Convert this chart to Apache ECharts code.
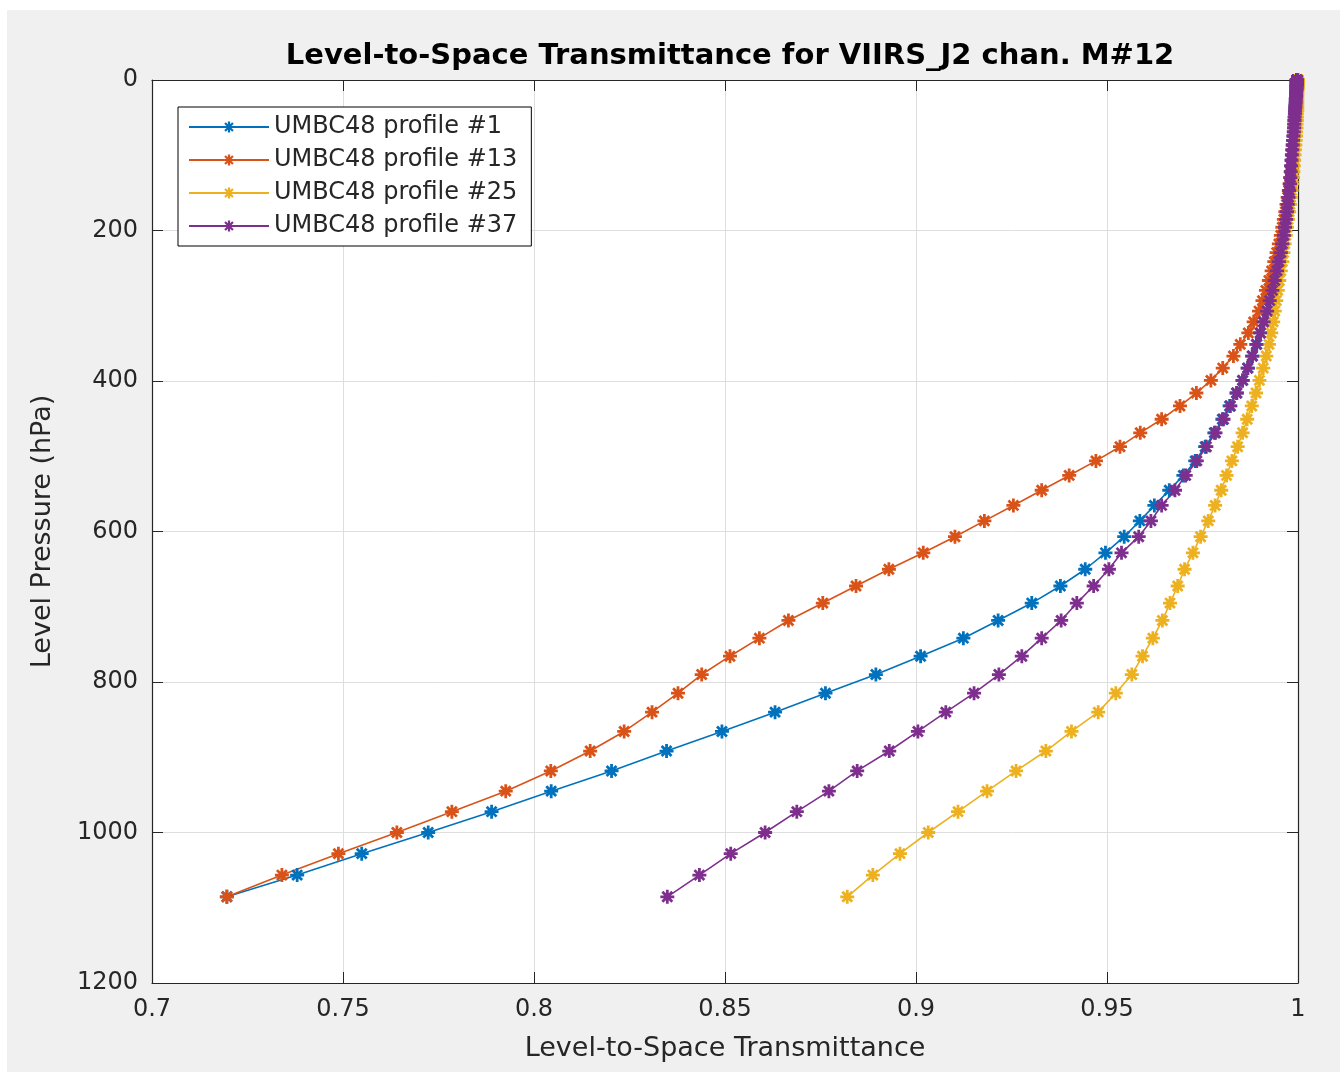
<!DOCTYPE html>
<html>
<head>
<meta charset="utf-8">
<script src="https://cdn.jsdelivr.net/npm/echarts@6/dist/echarts.min.js"></script>
<style>
html, body { margin: 0; padding: 0; background: #fff; }
#main { position: absolute; left: 7px; top: 10px; width: 1333px; height: 1062px; }
</style>
</head>
<body>
<div id="main"></div>
<script>
// layer pressures (hPa), top of atmosphere to surface
var pressure = [
  0.01, 0.03, 0.06, 0.11, 0.18, 0.28, 0.43, 0.61, 0.84, 1.14,
  1.49, 1.92, 2.43, 3.02, 3.71, 4.50, 5.40, 6.42, 7.56, 8.84,
  10.26, 11.83, 13.55, 15.44, 17.51, 19.75, 22.19, 24.82, 27.65, 30.70,
  33.96, 37.45, 41.18, 45.14, 49.36, 53.83, 58.56, 63.56, 68.83, 74.39,
  80.24, 86.38, 92.82, 99.57, 106.63, 114.01, 121.71, 129.75, 138.12, 146.83,
  155.88, 165.29, 175.05, 185.17, 195.65, 206.51, 217.73, 229.34, 241.32, 253.69,
  266.44, 279.59, 293.13, 307.07, 321.41, 336.15, 351.29, 366.85, 382.81, 399.18,
  415.97, 433.18, 450.80, 468.84, 487.30, 506.18, 525.48, 545.20, 565.35, 585.92,
  606.91, 628.33, 650.17, 672.43, 695.12, 718.23, 741.76, 765.71, 790.08, 814.87,
  840.08, 865.70, 891.74, 918.19, 945.06, 972.33, 1000.01, 1028.09, 1056.57, 1085.46
]

var profile1 = [
  0.9998, 0.9998, 0.9998, 0.9998, 0.9998, 0.9998, 0.9998, 0.9998, 0.9998, 0.9998,
  0.9998, 0.9998, 0.9998, 0.9998, 0.9998, 0.9997, 0.9997, 0.9997, 0.9997, 0.9997,
  0.9997, 0.9997, 0.9996, 0.9996, 0.9996, 0.9996, 0.9995, 0.9995, 0.9995, 0.9994,
  0.9994, 0.9993, 0.9993, 0.9992, 0.9992, 0.9991, 0.9991, 0.9990, 0.9990, 0.9989,
  0.9988, 0.9987, 0.9986, 0.9985, 0.9984, 0.9983, 0.9982, 0.9981, 0.9980, 0.9979,
  0.9977, 0.9975, 0.9973, 0.9970, 0.9967, 0.9964, 0.9960, 0.9956, 0.9951, 0.9946,
  0.9940, 0.9934, 0.9927, 0.9920, 0.9911, 0.9902, 0.9892, 0.9881, 0.9869, 0.9855,
  0.9839, 0.9821, 0.9802, 0.9781, 0.9757, 0.9731, 0.9700, 0.9663, 0.9624, 0.9586,
  0.9545, 0.9496, 0.9443, 0.9378, 0.9303, 0.9215, 0.9124, 0.9012, 0.8895, 0.8763,
  0.8631, 0.8492, 0.8347, 0.8203, 0.8045, 0.7889, 0.7723, 0.7549, 0.7380, 0.7196
]

var profile13 = [
  0.9998, 0.9998, 0.9998, 0.9998, 0.9998, 0.9998, 0.9998, 0.9998, 0.9998, 0.9998,
  0.9998, 0.9998, 0.9998, 0.9998, 0.9997, 0.9997, 0.9997, 0.9997, 0.9997, 0.9997,
  0.9997, 0.9997, 0.9997, 0.9997, 0.9996, 0.9996, 0.9996, 0.9996, 0.9995, 0.9995,
  0.9995, 0.9994, 0.9994, 0.9993, 0.9993, 0.9992, 0.9992, 0.9991, 0.9991, 0.9990,
  0.9989, 0.9988, 0.9987, 0.9986, 0.9985, 0.9983, 0.9982, 0.9980, 0.9978, 0.9976,
  0.9973, 0.9970, 0.9967, 0.9963, 0.9959, 0.9955, 0.9950, 0.9944, 0.9938, 0.9931,
  0.9924, 0.9916, 0.9907, 0.9898, 0.9884, 0.9870, 0.9849, 0.9831, 0.9803, 0.9772,
  0.9734, 0.9691, 0.9643, 0.9587, 0.9534, 0.9471, 0.9401, 0.9329, 0.9255, 0.9179,
  0.9102, 0.9019, 0.8929, 0.8843, 0.8756, 0.8666, 0.8590, 0.8513, 0.8439, 0.8377,
  0.8309, 0.8236, 0.8147, 0.8044, 0.7926, 0.7785, 0.7641, 0.7488, 0.7340, 0.7196
]

var profile25 = [
  1.0000, 1.0000, 1.0000, 1.0000, 1.0000, 1.0000, 1.0000, 1.0000, 1.0000, 1.0000,
  1.0000, 1.0000, 0.9999, 0.9999, 0.9999, 0.9999, 0.9999, 0.9999, 0.9999, 0.9999,
  0.9999, 0.9999, 0.9998, 0.9998, 0.9998, 0.9998, 0.9998, 0.9998, 0.9998, 0.9998,
  0.9998, 0.9998, 0.9998, 0.9997, 0.9997, 0.9997, 0.9996, 0.9996, 0.9995, 0.9995,
  0.9994, 0.9993, 0.9992, 0.9991, 0.9990, 0.9989, 0.9988, 0.9987, 0.9985, 0.9983,
  0.9981, 0.9979, 0.9977, 0.9974, 0.9971, 0.9968, 0.9965, 0.9962, 0.9959, 0.9955,
  0.9951, 0.9947, 0.9943, 0.9939, 0.9935, 0.9930, 0.9924, 0.9917, 0.9909, 0.9899,
  0.9890, 0.9879, 0.9867, 0.9855, 0.9842, 0.9827, 0.9813, 0.9799, 0.9783, 0.9765,
  0.9745, 0.9725, 0.9703, 0.9685, 0.9665, 0.9645, 0.9620, 0.9593, 0.9565, 0.9523,
  0.9477, 0.9407, 0.9340, 0.9262, 0.9186, 0.9110, 0.9032, 0.8958, 0.8887, 0.8820
]

var profile37 = [
  0.9997, 0.9997, 0.9997, 0.9997, 0.9997, 0.9997, 0.9997, 0.9997, 0.9997, 0.9997,
  0.9997, 0.9997, 0.9997, 0.9997, 0.9997, 0.9997, 0.9997, 0.9997, 0.9996, 0.9996,
  0.9996, 0.9996, 0.9996, 0.9995, 0.9995, 0.9995, 0.9995, 0.9994, 0.9994, 0.9994,
  0.9993, 0.9993, 0.9992, 0.9992, 0.9991, 0.9991, 0.9990, 0.9990, 0.9989, 0.9988,
  0.9987, 0.9986, 0.9985, 0.9984, 0.9983, 0.9982, 0.9981, 0.9980, 0.9979, 0.9977,
  0.9975, 0.9973, 0.9971, 0.9969, 0.9966, 0.9963, 0.9959, 0.9955, 0.9950, 0.9945,
  0.9939, 0.9933, 0.9926, 0.9919, 0.9910, 0.9901, 0.9891, 0.9880, 0.9868, 0.9855,
  0.9840, 0.9823, 0.9805, 0.9784, 0.9760, 0.9735, 0.9706, 0.9678, 0.9643, 0.9615,
  0.9583, 0.9538, 0.9505, 0.9465, 0.9421, 0.9380, 0.9329, 0.9277, 0.9217, 0.9152,
  0.9078, 0.9005, 0.8930, 0.8846, 0.8772, 0.8688, 0.8605, 0.8515, 0.8433, 0.8349
]

var names = ['UMBC48 profile #1', 'UMBC48 profile #13', 'UMBC48 profile #25', 'UMBC48 profile #37']
var colors = ['#0072BD', '#D95319', '#EDB120', '#7E2F8E']
var profiles = [profile1, profile13, profile25, profile37]

// matlab style asterisk marker
var star = 'path://M-1.2,-6L1.2,-6L1.2,6L-1.2,6Z M-6,-1.2L6,-1.2L6,1.2L-6,1.2Z ' +
  'M-3.39,-5.09L5.09,3.39L3.39,5.09L-5.09,-3.39Z M3.39,-5.09L5.09,-3.39L-3.39,5.09L-5.09,3.39Z'

var font = 'DejaVu Sans'
var axisColor = '#262626'

var series = profiles.map(function (vals, k) {
  return {
    name: names[k],
    type: 'line',
    data: pressure.map(function (p, i) { return [vals[i], p] }),
    symbol: star,
    symbolSize: 14,
    showAllSymbol: true,
    lineStyle: { color: colors[k], width: 1.6 },
    itemStyle: { color: colors[k] },
    clip: false,
    animation: false
  }
})

function tickStyle() {
  return { inside: true, length: 11, lineStyle: { color: axisColor } }
}

var myChart = echarts.init(document.getElementById('main'))
var option = {
  backgroundColor: '#f0f0f0',
  animation: false,
  title: {
    text: 'Level-to-Space Transmittance for VIIRS_J2 chan. M#12',
    left: 718,
    top: 27,
    textAlign: 'center',
    textStyle: { fontFamily: font, fontSize: 29, fontWeight: 'bold', color: '#000' }
  },
  legend: {
    data: names,
    orient: 'vertical',
    left: 171,
    top: 97,
    backgroundColor: '#fff',
    borderColor: '#000',
    borderWidth: 1,
    padding: [8, 14, 8, 10],
    itemWidth: 80,
    itemHeight: 14,
    itemGap: 9,
    textStyle: { fontFamily: font, fontSize: 24, color: axisColor, lineHeight: 24 }
  },
  grid: { left: 145, top: 70, width: 1146, height: 903, backgroundColor: '#fff', show: true, borderWidth: 0 },
  xAxis: [{
    type: 'value',
    min: 0.7,
    max: 1,
    interval: 0.05,
    position: 'bottom',
    name: 'Level-to-Space Transmittance',
    nameLocation: 'middle',
    nameGap: 52,
    nameTextStyle: { fontFamily: font, fontSize: 27, color: axisColor },
    axisLine: { onZero: false, lineStyle: { color: axisColor, width: 1.2 } },
    axisTick: tickStyle(),
    axisLabel: {
      margin: 15, fontFamily: font, fontSize: 24, color: axisColor,
      formatter: function (v) { return String(+v.toFixed(2)) }
    },
    splitLine: { show: true, lineStyle: { color: '#dedede', width: 1 } }
  }, {
    type: 'value',
    min: 0.7,
    max: 1,
    interval: 0.05,
    position: 'top',
    axisLine: { onZero: false, lineStyle: { color: axisColor, width: 1.2 } },
    axisTick: tickStyle(),
    axisLabel: { show: false },
    splitLine: { show: false }
  }],
  yAxis: [{
    type: 'value',
    inverse: true,
    min: 0,
    max: 1200,
    interval: 200,
    position: 'left',
    name: 'Level Pressure (hPa)',
    nameLocation: 'middle',
    nameGap: 96,
    nameTextStyle: { fontFamily: font, fontSize: 27, color: axisColor },
    axisLine: { onZero: false, lineStyle: { color: axisColor, width: 1.2 } },
    axisTick: tickStyle(),
    axisLabel: {
      margin: 14, fontFamily: font, fontSize: 24, color: axisColor,
      formatter: function (v) { return String(v) }
    },
    splitLine: { show: true, lineStyle: { color: '#dedede', width: 1 } }
  }, {
    type: 'value',
    inverse: true,
    min: 0,
    max: 1200,
    interval: 200,
    position: 'right',
    axisLine: { onZero: false, lineStyle: { color: axisColor, width: 1.2 } },
    axisTick: tickStyle(),
    axisLabel: { show: false },
    splitLine: { show: false }
  }],
  series: series
}

myChart.setOption(option)
</script>
</body>
</html>
